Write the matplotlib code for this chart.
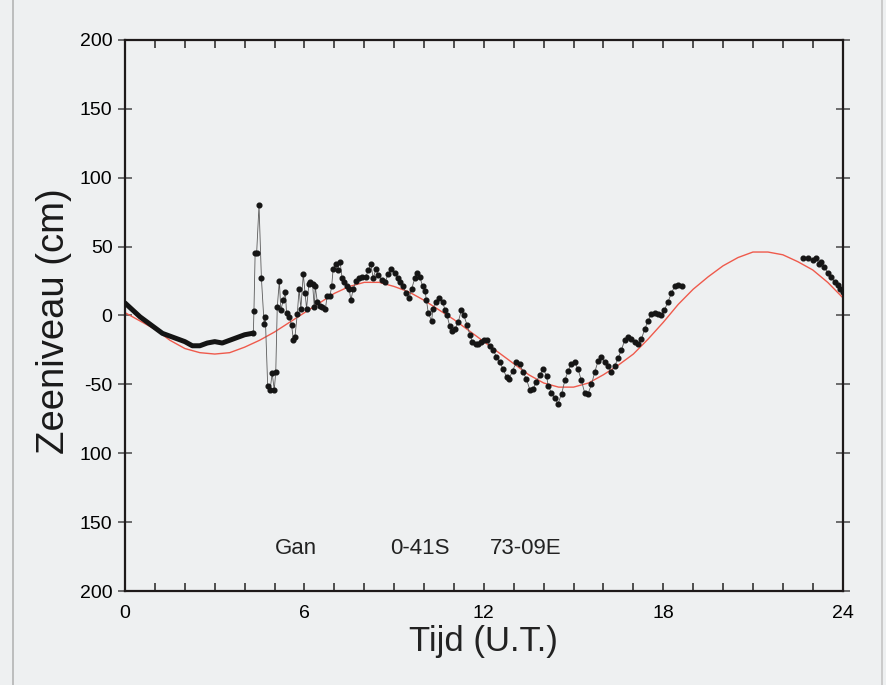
#!/usr/bin/env python3
"""
Tide gauge record at Gan (0-41S 73-09E): observed sea level vs predicted tide.
"""

import matplotlib
matplotlib.use("Agg")
import matplotlib.pyplot as plt
from matplotlib.lines import Line2D
from matplotlib.ticker import MultipleLocator

plt.rcParams['font.family'] = ['Liberation Sans', 'DejaVu Sans']

# Predicted tide (red curve), read every half hour
pred_t = [0, 0.5, 1, 1.5, 2, 2.5, 3, 3.5, 4, 4.5, 5, 5.5, 6, 6.5, 7, 7.5,
          8, 8.5, 9, 9.5, 10, 10.5, 11, 11.5, 12, 12.5, 13, 13.5, 14, 14.5,
          15, 15.5, 16, 16.5, 17, 17.5, 18, 18.5, 19, 19.5, 20, 20.5, 21,
          21.5, 22, 22.5, 23, 23.5, 24]
pred_v = [2, -4, -10, -18, -24, -27, -28, -27, -23, -18, -12, -5, 2, 9, 16,
          21, 24, 24, 21, 17, 11, 4, -3, -11, -19, -27, -35, -43, -49, -52,
          -52, -49, -43, -36, -28, -17, -5, 8, 19, 28, 36, 42, 46,
          46, 44, 39, 33, 24, 13]

# Observed, smooth part before the tsunami arrival
calm_t = [0, 0.25, 0.5, 0.75, 1.0, 1.25, 1.5, 1.75, 2.0, 2.25, 2.5,
          2.75, 3.0, 3.25, 3.5, 3.75, 4.0, 4.25, 4.29]
calm_v = [9, 4, -1, -5, -9, -13, -15, -17, -19, -22, -22,
          -20, -19, -20, -18, -16, -14, -13, -13]

# Observed, after arrival (dots)
obs_t = [4.29, 4.31, 4.35, 4.40, 4.48, 4.56, 4.65, 4.69, 4.77, 4.85, 4.92,
         4.99, 5.04, 5.09, 5.16, 5.21, 5.29, 5.36, 5.40, 5.49, 5.57, 5.63,
         5.68, 5.76, 5.82, 5.88, 5.96, 6.02, 6.07, 6.15, 6.20, 6.27, 6.33,
         6.36, 6.43, 6.52, 6.60, 6.70, 6.76, 6.85, 6.91, 6.96, 7.04, 7.11,
         7.19, 7.26, 7.33, 7.41, 7.50, 7.55, 7.63, 7.72, 7.83, 7.94, 8.05,
         8.14, 8.22, 8.30, 8.39, 8.47, 8.58, 8.69, 8.80, 8.91, 9.02, 9.13,
         9.19, 9.30, 9.41, 9.50, 9.58, 9.69, 9.75, 9.86, 9.95, 10.03, 10.08,
         10.14, 10.25, 10.30, 10.39, 10.50, 10.62, 10.70, 10.77, 10.86, 10.92,
         11.03, 11.14, 11.25, 11.33, 11.44, 11.53, 11.62, 11.73, 11.81, 11.89,
         12.00, 12.11, 12.20, 12.31, 12.42, 12.53, 12.65, 12.76, 12.85, 12.96,
         13.09, 13.20, 13.31, 13.42, 13.54, 13.65, 13.76, 13.87, 13.99, 14.10,
         14.15, 14.26, 14.37, 14.48, 14.60, 14.71, 14.82, 14.93, 15.04, 15.15,
         15.26, 15.37, 15.48, 15.60, 15.71, 15.82, 15.93, 16.04, 16.15, 16.26,
         16.37, 16.49, 16.60, 16.71, 16.82, 16.93, 17.04, 17.16, 17.27, 17.38,
         17.49, 17.60, 17.71, 17.82, 17.93, 18.04, 18.16, 18.27, 18.38, 18.49,
         18.64]
obs_v = [-13, 3, 45, 45, 80, 27, -6, -1, -51, -54, -42,
         -54, -41, 6, 25, 4, 11, 17, 2, -1, -7, -18,
         -16, 1, 19, 5, 30, 16, 5, 23, 24, 23, 6,
         21, 10, 7, 6, 5, 14, 14, 21, 34, 37, 33,
         39, 27, 24, 21, 19, 11, 19, 25, 27, 28, 28,
         33, 37, 27, 34, 29, 26, 24, 30, 34, 31, 27,
         24, 21, 16, 13, 19, 27, 31, 28, 21, 18, 11,
         2, -4, 5, 10, 13, 10, 4, 0, -8, -11,
         -10, -5, 4, 0, -7, -14, -19, -21, -21, -19,
         -18, -18, -22, -25, -30, -34, -39, -45, -46, -40,
         -34, -35, -41, -46, -54, -53, -48, -43, -39, -44,
         -51, -56, -60, -64, -57, -47, -40, -35, -34, -39,
         -47, -56, -57, -50, -41, -33, -30, -34, -37, -41,
         -37, -31, -25, -18, -16, -17, -19, -21, -17, -10,
         -4, 1, 2, 1, 0, 4, 10, 16, 21, 22,
         21]

# Observed, late segment
late_t = [22.67, 22.84, 23.00, 23.12, 23.21, 23.28, 23.39, 23.50, 23.62,
          23.73, 23.84, 23.92, 24.0]
late_v = [42, 42, 40, 42, 37, 39, 35, 31, 28, 24, 22, 19, 17]

ytick_vals = [200, 150, 100, 50, 0, -50, -100, -150, -200]
ytick_labels = ['200', '150', '100', '50', '0', '-50', '100', '150', '200']

BG = '#eef0f1'

fig = plt.figure(figsize=(8.87, 6.85), dpi=100, facecolor=BG)
ax = fig.add_axes([0.141, 0.137, 0.809, 0.805], facecolor=BG)

# faint page edges from the scan
fig.add_artist(Line2D([0.015, 0.015], [0.0, 1.0], color='#b4b4b4', lw=1.2))
fig.add_artist(Line2D([0.994, 0.994], [0.0, 1.0], color='#c4c4c4', lw=1.2))

ax.plot(pred_t, pred_v, color='#ee5a4c', linewidth=1.0, zorder=2)
ax.plot(calm_t, calm_v, color='#141414', linewidth=3.6, zorder=3,
        solid_capstyle='round')
dot_style = dict(color='#5a5a5a', linewidth=0.6, marker='o', markersize=3.4,
                 markerfacecolor='#151515', markeredgecolor='#151515',
                 zorder=3)
ax.plot(obs_t, obs_v, **dot_style)
ax.plot(late_t, late_v, **dot_style)

ax.text(5.0, -169, 'Gan', fontsize=16, color='#222222', va='center')
ax.text(8.86, -169, '0-41S', fontsize=16, color='#222222', va='center')
ax.text(12.2, -169, '73-09E', fontsize=16, color='#222222', va='center')

ax.set_xlim(0, 24)
ax.set_ylim(-200, 200)
ax.set_xticks([0, 6, 12, 18, 24])
ax.xaxis.set_minor_locator(MultipleLocator(1))
ax.set_yticks(ytick_vals)
ax.set_yticklabels(ytick_labels)

ax.tick_params(axis='x', which='both', direction='in', top=True,
               bottom=True, length=6, width=1.2, labelsize=14, pad=10,
               color='#333333')
ax.tick_params(axis='y', which='both', direction='inout', left=True,
               right=True, length=10, width=1.2, labelsize=14, pad=4,
               color='#555555')

for s in ax.spines.values():
    s.set_linewidth(1.6)
    s.set_color('#1e1a1a')

ax.set_xlabel('Tijd (U.T.)', fontsize=25, color='#222222', labelpad=2)
ax.set_ylabel('Zeeniveau (cm)', fontsize=27.5, color='#1a1a1a')
ax.yaxis.set_label_coords(-0.074, 0.49)

plt.savefig('out.png', dpi=100, facecolor=BG)
plt.close()
